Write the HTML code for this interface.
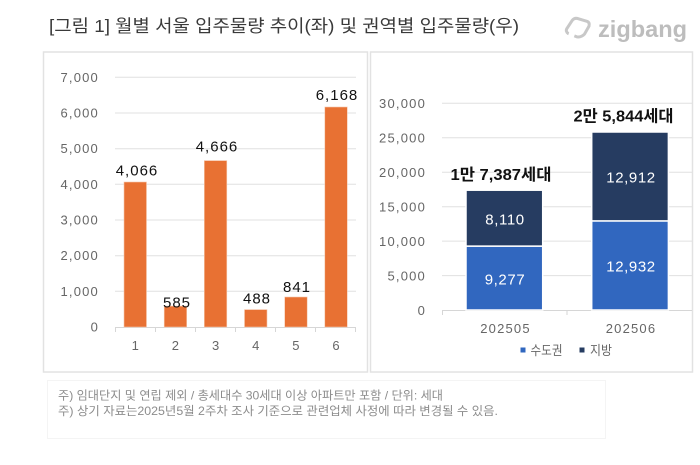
<!DOCTYPE html>
<html>
<head>
<meta charset="utf-8">
<style>
  html,body{margin:0;padding:0;background:#fff;}
  body{width:700px;height:465px;overflow:hidden;}
  svg{display:block;}
  text{font-family:"Liberation Sans","Noto Sans CJK KR",sans-serif;}
</style>
</head>
<body>
<svg width="700" height="465" viewBox="0 0 700 465" xmlns="http://www.w3.org/2000/svg">
  <!-- Title -->
  <text x="49" y="32" font-size="17.5" fill="#3a3a3a" textLength="470" lengthAdjust="spacingAndGlyphs">[그림 1] 월별 서울 입주물량 추이(좌) 및 권역별 입주물량(우)</text>

  <!-- Logo -->
  <g transform="translate(578,28) rotate(-20)">
    <path d="M-11,-3 L-3,-9 Q0,-11 3,-9 L11,-3 Q13,-1 11,2 L4,8 Q0,10 -4,8 L-11,2 Q-13,-1 -11,-3 Z" fill="none" stroke="#c8c8c8" stroke-width="3" stroke-linejoin="round" stroke-dasharray="52 6"/>
  </g>
  <text x="598" y="37" font-size="23" font-weight="bold" fill="#bdbdbd" textLength="89" lengthAdjust="spacingAndGlyphs">zigbang</text>

  <!-- Panels -->
  <rect x="43.5" y="52" width="324" height="320" fill="none" stroke="#e2e2e2" stroke-width="1.5"/>
  <rect x="370.5" y="52" width="322" height="320" fill="none" stroke="#e2e2e2" stroke-width="1.5"/>

  <!-- LEFT CHART -->
  <g stroke="#e0e0e0" stroke-width="1">
    <line x1="115" x2="356" y1="77.3" y2="77.3"/>
    <line x1="115" x2="356" y1="113" y2="113"/>
    <line x1="115" x2="356" y1="148.7" y2="148.7"/>
    <line x1="115" x2="356" y1="184.3" y2="184.3"/>
    <line x1="115" x2="356" y1="220" y2="220"/>
    <line x1="115" x2="356" y1="255.7" y2="255.7"/>
    <line x1="115" x2="356" y1="291.3" y2="291.3"/>
  </g>
  <g stroke="#d6d6d6" stroke-width="1">
    <line x1="115" x2="356" y1="327.5" y2="327.5"/>
    <line x1="115.5" x2="115.5" y1="327" y2="332"/>
    <line x1="155.5" x2="155.5" y1="327" y2="332"/>
    <line x1="195.5" x2="195.5" y1="327" y2="332"/>
    <line x1="235.5" x2="235.5" y1="327" y2="332"/>
    <line x1="275.5" x2="275.5" y1="327" y2="332"/>
    <line x1="315.5" x2="315.5" y1="327" y2="332"/>
    <line x1="355.5" x2="355.5" y1="327" y2="332"/>
  </g>
  <g font-size="13" fill="#666" text-anchor="end" letter-spacing="1.2">
    <text x="99" y="82">7,000</text>
    <text x="99" y="117.5">6,000</text>
    <text x="99" y="153">5,000</text>
    <text x="99" y="189">4,000</text>
    <text x="99" y="224.5">3,000</text>
    <text x="99" y="260">2,000</text>
    <text x="99" y="296">1,000</text>
    <text x="99" y="331.5">0</text>
  </g>
  <g fill="#E87133" stroke="#f6c9ae" stroke-width="0.6">
    <rect x="124" y="182" width="22.5" height="145"/>
    <rect x="164.2" y="306.1" width="22.5" height="20.9"/>
    <rect x="204.3" y="160.6" width="22.5" height="166.4"/>
    <rect x="244.5" y="309.6" width="22.5" height="17.4"/>
    <rect x="284.7" y="297" width="22.5" height="30"/>
    <rect x="324.8" y="107" width="22.5" height="220"/>
  </g>
  <g font-size="15" fill="#111" text-anchor="middle" letter-spacing="1">
    <text x="137" y="175.5">4,066</text>
    <text x="177" y="307.5">585</text>
    <text x="217" y="151.5">4,666</text>
    <text x="257" y="303.5">488</text>
    <text x="297" y="292">841</text>
    <text x="337" y="99.8">6,168</text>
  </g>
  <g font-size="13" fill="#666" text-anchor="middle">
    <text x="135.3" y="350">1</text>
    <text x="175.4" y="350">2</text>
    <text x="215.6" y="350">3</text>
    <text x="255.7" y="350">4</text>
    <text x="295.9" y="350">5</text>
    <text x="336" y="350">6</text>
  </g>

  <!-- RIGHT CHART -->
  <g stroke="#e0e0e0" stroke-width="1">
    <line x1="442" x2="692" y1="103.3" y2="103.3"/>
    <line x1="442" x2="692" y1="137.8" y2="137.8"/>
    <line x1="442" x2="692" y1="172.2" y2="172.2"/>
    <line x1="442" x2="692" y1="206.7" y2="206.7"/>
    <line x1="442" x2="692" y1="241.1" y2="241.1"/>
    <line x1="442" x2="692" y1="275.6" y2="275.6"/>
  </g>
  <g stroke="#d6d6d6" stroke-width="1">
    <line x1="442" x2="692" y1="310.5" y2="310.5"/>
    <line x1="442.5" x2="442.5" y1="310" y2="315"/>
    <line x1="567" x2="567" y1="310" y2="315"/>
  </g>
  <g font-size="13" fill="#666" text-anchor="end" letter-spacing="1.2">
    <text x="426" y="108">30,000</text>
    <text x="426" y="142.5">25,000</text>
    <text x="426" y="177">20,000</text>
    <text x="426" y="211.5">15,000</text>
    <text x="426" y="246">10,000</text>
    <text x="426" y="280.5">5,000</text>
    <text x="426" y="315">0</text>
  </g>
  <g stroke="#ffffff" stroke-width="1.5">
    <rect x="466" y="246.1" width="76.7" height="63.9" fill="#3167BF"/>
    <rect x="466" y="190.2" width="76.7" height="55.9" fill="#263C61"/>
    <rect x="591.7" y="220.9" width="76.7" height="89.1" fill="#3167BF"/>
    <rect x="591.7" y="132" width="76.7" height="88.9" fill="#263C61"/>
  </g>
  <g font-size="15" fill="#ffffff" text-anchor="middle" letter-spacing="0.6">
    <text x="505" y="284.5">9,277</text>
    <text x="505" y="224.5">8,110</text>
    <text x="631" y="271.5">12,932</text>
    <text x="631" y="182.5">12,912</text>
  </g>
  <g font-size="16" font-weight="bold" fill="#111" text-anchor="middle">
    <text x="501" y="180" textLength="101" lengthAdjust="spacingAndGlyphs">1만 7,387세대</text>
    <text x="623.5" y="121.5" textLength="100" lengthAdjust="spacingAndGlyphs">2만 5,844세대</text>
  </g>
  <g font-size="13" fill="#666" text-anchor="middle" letter-spacing="1.2">
    <text x="505.5" y="333">202505</text>
    <text x="631" y="333">202506</text>
  </g>
  <rect x="520.5" y="347.5" width="5" height="5" fill="#3167BF"/>
  <text x="530.5" y="355" font-size="13" fill="#666" textLength="32" lengthAdjust="spacingAndGlyphs">수도권</text>
  <rect x="579.5" y="347.5" width="5" height="5" fill="#263C61"/>
  <text x="590" y="355" font-size="13" fill="#666" textLength="22" lengthAdjust="spacingAndGlyphs">지방</text>

  <!-- Notes box -->
  <rect x="47.5" y="380.5" width="558" height="58" fill="none" stroke="#f4f4f4" stroke-width="1"/>
  <text x="58" y="399.5" font-size="12" fill="#8c8c8c" textLength="385" lengthAdjust="spacingAndGlyphs">주) 임대단지 및 연립 제외 / 총세대수 30세대 이상 아파트만 포함 / 단위: 세대</text>
  <text x="58" y="415" font-size="12" fill="#8c8c8c" textLength="440" lengthAdjust="spacingAndGlyphs">주) 상기 자료는2025년5월 2주차 조사 기준으로 관련업체 사정에 따라 변경될 수 있음.</text>
</svg>
</body>
</html>
